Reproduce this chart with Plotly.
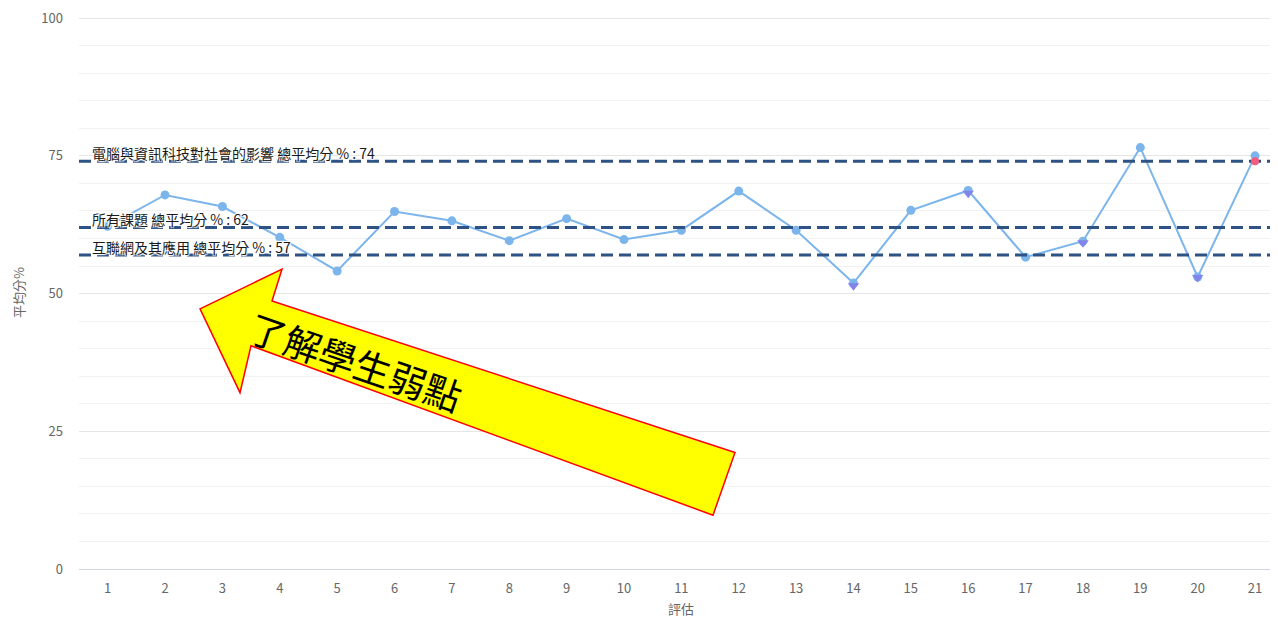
import plotly.graph_objects as go

# ---- data ----
assessments = list(range(1, 22))
avg_scores = [62.2, 67.9, 65.8, 60.2, 54.1, 64.9, 63.2, 59.6, 63.6, 59.8, 61.5,
              68.6, 61.5, 51.9, 65.1, 68.7, 56.6, 59.5, 76.5, 53.0, 75.0]
weak_x = [14, 16, 18, 20]
weak_y = [51.4, 68.2, 59.2, 52.9]
hi_x = [21]
hi_y = [74.0]

ref_values = [74, 62, 57]
ref_labels = ["電腦與資訊科技對社會的影響 總平均分 % : 74",
              "所有課題 總平均分 % : 62",
              "互聯網及其應用 總平均分 % : 57"]

x_title = "評估"
y_title = "平均分%"
arrow_text = "了解學生弱點"
y_ticks = [0, 25, 50, 75, 100]

# ---- layout geometry (window pixels; page body has an 8px margin) ----
OFF = 8
WIN_W, WIN_H = 1278, 618
W, H = WIN_W - OFF, WIN_H - OFF
PL, PR, PT, PB = 79, 1278, 15, 569          # plot box in window pixels
ML, MR, MT, MB = PL - OFF, (OFF + W) - PR, PT - OFF, (OFF + H) - PB
X_MIN, X_MAX = 0.5, 21.4
Y_MIN, Y_MAX = 0, 100.2
FONT = "Noto Sans CJK TC, Noto Sans, sans-serif"


def px(xp):
    return (xp - PL) / (PR - PL)


def py(yp):
    return (PB - yp) / (PB - PT)


fig = go.Figure()

fig.add_trace(go.Scatter(
    x=assessments, y=avg_scores, mode="lines+markers",
    line=dict(color="#7cb5ec", width=2),
    marker=dict(color="#7cb5ec", size=9),
    showlegend=False, hoverinfo="x+y"))

for v in ref_values:
    fig.add_trace(go.Scatter(
        x=[X_MIN, X_MAX], y=[v, v], mode="lines",
        line=dict(color="#2d5283", width=3, dash="12px,6px"),
        showlegend=False, hoverinfo="skip"))

fig.add_trace(go.Scatter(
    x=weak_x, y=weak_y, mode="markers",
    marker=dict(color="#8085e9", size=10, symbol="triangle-down"),
    showlegend=False))
fig.add_trace(go.Scatter(
    x=hi_x, y=hi_y, mode="markers",
    marker=dict(color="#f15c80", size=8, symbol="circle"),
    showlegend=False))

annotations = []
halo = ("1px 1px 1px #fff, -1px -1px 1px #fff, 1px -1px 1px #fff, "
        "-1px 1px 1px #fff")
for v, lab in zip(ref_values, ref_labels):
    annotations.append(dict(
        x=px(91), xref="paper", y=v, yref="y", text=lab,
        showarrow=False, xanchor="left", yanchor="bottom", yshift=-3,
        borderpad=0,
        font=dict(family=FONT, size=14, color="#1a1a1a", shadow=halo)))

annotations.append(dict(
    x=px(681), y=py(609), xref="paper", yref="paper", text=x_title,
    showarrow=False, xanchor="center", yanchor="middle",
    font=dict(family=FONT, size=13, color="#666")))
annotations.append(dict(
    x=px(18), y=py(292), xref="paper", yref="paper", text=y_title,
    showarrow=False, xanchor="center", yanchor="middle", textangle=-90,
    font=dict(family=FONT, size=13, color="#666")))

# arrow callout polygon (window pixel corners, converted to paper)
arrow_pts = [(200, 308), (282, 268), (272, 300), (735, 452),
             (713, 515), (251, 345), (240, 392)]
path = "M " + " L ".join(f"{px(a):.5f},{py(b):.5f}" for a, b in arrow_pts) + " Z"

annotations.append(dict(
    x=px(356), y=py(360), xref="paper", yref="paper", text=arrow_text,
    showarrow=False, textangle=19, xanchor="center", yanchor="middle",
    font=dict(family=FONT, size=37, color="#000")))

fig.update_layout(
    width=W, height=H,
    margin=dict(l=ML, r=MR, t=MT, b=MB, pad=0),
    paper_bgcolor="white", plot_bgcolor="white",
    font=dict(family=FONT, size=12, color="#666"),
    xaxis=dict(range=[X_MIN, X_MAX], tickvals=assessments,
               showgrid=False, zeroline=False,
               showline=True, linecolor="#ccd6eb", linewidth=1,
               ticks="", ticklabelstandoff=7,
               tickfont=dict(size=13, color="#666")),
    yaxis=dict(range=[Y_MIN, Y_MAX], tickvals=y_ticks,
               showgrid=True, gridcolor="#e6e6e6", gridwidth=1,
               minor=dict(dtick=5, showgrid=True, gridcolor="#f2f2f2",
                          gridwidth=1),
               zeroline=False, showline=False, ticks="",
               ticklabelstandoff=15, ticklabeloverflow="allow",
               tickfont=dict(size=13, color="#666")),
    shapes=[dict(type="path", path=path, xref="paper", yref="paper",
                 fillcolor="#ffff00", line=dict(color="#ff0000", width=1.5),
                 layer="above")],
    annotations=annotations,
)

fig.write_html("out.html")
